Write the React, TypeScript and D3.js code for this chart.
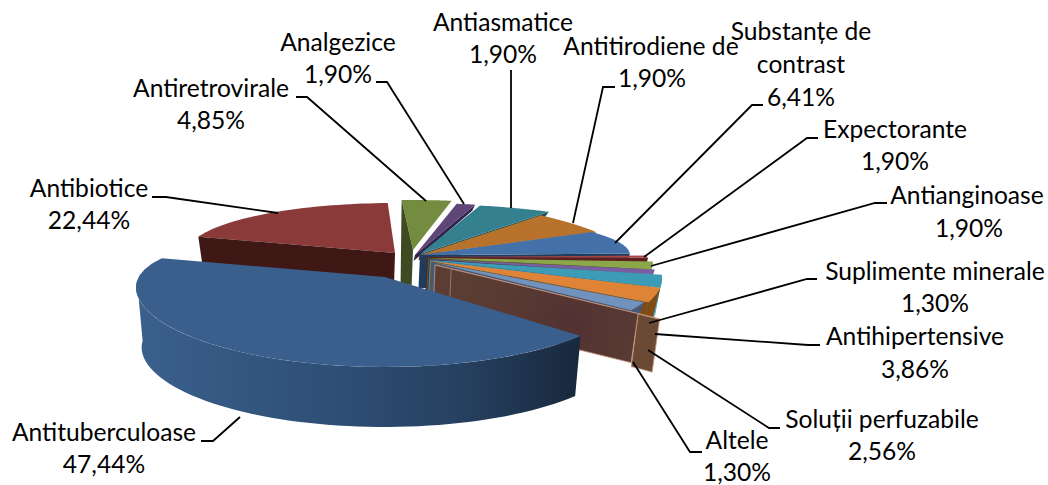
import React from "react";
import * as d3 from "d3";

// ---- data ----
const labelNames = [
  ["Antituberculoase"], ["Antibiotice"], ["Antiretrovirale"], ["Analgezice"], ["Antiasmatice"],
  ["Antitirodiene de"], ["Substanțe de", "contrast"], ["Expectorante"], ["Antianginoase"],
  ["Suplimente minerale"], ["Antihipertensive"], ["Soluții perfuzabile"], ["Altele"],
];
const labelValues = ["47,44%", "22,44%", "4,85%", "1,90%", "1,90%", "1,90%", "6,41%", "1,90%", "1,90%", "1,30%", "3,86%", "2,56%", "1,30%"];
// apparent sweep of each drawn wedge on the tilted disc (degrees)
const drawnSweep = [160.5, 69, 12, 4.5, 18, 22.5, 33, 3, 5, 3.5, 8.5, 10, 6, 4.5];

// ---- styles / layout ----
const W = 1048, H = 485;
const topColors = ["#3a5f8d", "#8b3a3a", "#748c3f", "#5e4679", "#35808f", "#b8722c", "#4472a8", "#a84444", "#8aa84a", "#7a5fa0", "#3d9cb5", "#df8336", "#7092bf", "#5a3a32"];
const wallColors = ["url(#blueWall)", "#3f1815", "#3f4a22", "#33224a", "#1c4c58", "#6a4015", "#1f3c5c", "#5e1f1f", "#4c6026", "#44305f", "#3d9cb5", "#7f4d14", "#46597a", "#6a4a35"];
// ax,ay = wedge tip; cx,cy = rim ellipse centre; rx..rxEnd, ry..ryEnd = rim ellipse; h = wall depth
const geo = [
  { ax: 385, ay: 277, cx: 385, cy: 285, rx: 250, rxEnd: 236, rxPow: 20, ry: 82, outer: 60, outerTo: 273 },
  { ax: 395, ay: 253, cx: 395, cy: 253, rx: 208, ry: 50, startH: 28 },
  { ax: 413, ay: 250, cx: 410, cy: 250, rx: 240, ry: 50, startH: 35, rimH: 84 },
  { ax: 415, ay: 255, cx: 415, cy: 255, rx: 240, ry: 52, endH: 6 },
  { ax: 420, ay: 254, cx: 420, cy: 254, rx: 240, ry: 50, endH: 6 },
  { ax: 420, ay: 255, cx: 420, cy: 255, rx: 225, rxEnd: 215, ry: 47, ryEnd: 40, endH: 5 },
  { ax: 420, ay: 255, cx: 420, cy: 255, rx: 210, ry: 40, endH: 33 },
  { ax: 427, ay: 257, cx: 430, cy: 257, rx: 216, rxEnd: 218, ry: 40, endH: 33 },
  { ax: 428, ay: 258, cx: 432, cy: 260, rx: 221, ry: 90, endH: 33 },
  { ax: 429, ay: 259, cx: 432, cy: 260, rx: 224, ry: 90, endH: 33 },
  { ax: 430, ay: 260, cx: 432, cy: 260, rx: 233, rxEnd: 240, ry: 90, endH: 33, outer: 40 },
  { ax: 431, ay: 261, cx: 432, cy: 260, rx: 240, rxEnd: 245, ry: 90, endH: 33, outer: 30 },
  { ax: 432, ay: 262, cx: 432, cy: 260, rx: 240, ry: 90, endH: 33, outer: 20 },
  { ax: 435, ay: 265, cx: 435, cy: 265, rx: 245, rxEnd: 287, ry: 87, startH: 49, outer: 53, glass: true },
];
const labelLayout = [
  { x: 104, y: 441, lead: [[201, 441], [213, 441], [240, 417]] },
  { x: 89, y: 197, lead: [[152, 197], [166, 197], [278, 213]] },
  { x: 211, y: 97, lead: [[296, 97], [307, 97], [426, 201]] },
  { x: 338, y: 51, lead: [[376, 82], [387, 82], [464, 204]] },
  { x: 503, y: 31, lead: [[511, 70], [511, 208]] },
  { x: 651, y: 55, lineX: 652, lead: [[615, 87], [603, 87], [573, 223]] },
  { x: 801, y: 40, lh: 33, lead: [[763, 105], [752, 105], [615, 243]] },
  { x: 895, y: 138, lead: [[818, 138], [807, 138], [644, 257]] },
  { x: 967, y: 204, lh: 33, lineX: 969, lead: [[887, 203], [875, 203], [651, 266]] },
  { x: 935, y: 280, lead: [[817, 279], [807, 279], [649, 323]] },
  { x: 915, y: 345, lh: 33, lead: [[820, 345], [808, 345], [655, 334]] },
  { x: 882, y: 428, lead: [[780, 428], [769, 428], [648, 350]] },
  { x: 737, y: 449, lead: [[702, 452], [690, 452], [633, 362]] },
];

const lineHeight = 32;
const vanishX = 360, depthK = 0.975;
const deg = d3.scaleLinear().domain([0, 360]).range([0, 2 * Math.PI]);
const pieGen = d3.pie<number>().sort(null).value((d) => d).startAngle(deg(128.5)).endAngle(deg(128.5 + 360));
const wedges = pieGen(drawnSweep).map((a) => ({ start: a.startAngle, end: a.endAngle }));
const path = d3.line();

type G = (typeof geo)[number] & { rxEnd?: number; ryEnd?: number; rxPow?: number };
function rim(g: G, a: number, w: { start: number; end: number }): [number, number] {
  const f = (a - w.start) / (w.end - w.start);
  const fx = Math.pow(f, g.rxPow ?? 1);
  const rx = d3.interpolateNumber(g.rx, g.rxEnd ?? g.rx)(fx);
  const ry = d3.interpolateNumber(g.ry, g.ryEnd ?? g.ry)(f);
  return [g.cx + rx * Math.sin(a), g.cy - ry * Math.cos(a)];
}
const drop = (p: number[], h: number): [number, number] => [vanishX + (p[0] - vanishX) * depthK, p[1] + h];

function Wedge({ i }: { i: number }) {
  const g = geo[i] as G;
  const w = wedges[i];
  const arc = d3.range(0, 41).map((k) => rim(g, w.start + ((w.end - w.start) * k) / 40, w));
  const tip: [number, number] = [g.ax, g.ay];
  const top = path([tip, ...arc])! + "Z";
  const stroke = g.glass ? "#c9977f" : "none";
  const sw = g.glass ? 0.8 : 0;
  const parts: React.ReactNode[] = [];
  if (g.outer) {
    const stop = g.outerTo !== undefined ? deg(g.outerTo) : w.end;
    const pts = d3.range(0, 61).map((k) => rim(g, w.start + ((stop - w.start) * k) / 60, w));
    const d = path([...pts, ...pts.slice().reverse().map((p) => drop(p, g.outer!))])! + "Z";
    parts.push(<path key="o" d={d} fill={wallColors[i]} stroke={stroke} strokeWidth={sw} />);
  }
  if (g.endH) {
    const p = arc[arc.length - 1];
    const d = path([p, tip, drop(tip, g.endH), drop(p, g.endH)])! + "Z";
    parts.push(<path key="e" d={d} fill={wallColors[i]} />);
  }
  parts.push(<path key="t" d={top} fill={topColors[i]} stroke={stroke} strokeWidth={sw} />);
  if (g.startH) {
    const p = arc[0];
    const d = path([p, tip, drop(tip, g.startH), drop(p, g.rimH ?? g.startH)])! + "Z";
    parts.push(<path key="s" d={d} fill={g.glass ? "url(#glass)" : wallColors[i]} stroke={stroke} strokeWidth={sw} />);
    if (g.glass) {
      const mix = d3.interpolateArray(tip as number[], p as number[]);
      const a = mix(0.08) as number[];
      parts.push(<path key="m" d={path([a as [number, number], drop(a, g.startH)])!} stroke="#a98070" strokeWidth={0.8} fill="none" />);
    }
  }
  return <g>{parts}</g>;
}

export default function App() {
  const drawOrder = d3.range(1, geo.length).concat([0]);
  return (
    <svg width={W} height={H} style={{ position: "absolute", left: 0, top: 0, display: "block", background: "#fff" }}>
      <defs>
        <linearGradient id="blueWall" gradientUnits="userSpaceOnUse" x1={135} x2={577} y1={0} y2={0}>
          <stop offset="0" stopColor="#3a608c" />
          <stop offset="0.45" stopColor="#2e4f76" />
          <stop offset="0.75" stopColor="#26405f" />
          <stop offset="1" stopColor="#18293d" />
        </linearGradient>
        <radialGradient id="glass" gradientUnits="userSpaceOnUse" cx={570} cy={325} r={110}>
          <stop offset="0" stopColor="#523232" />
          <stop offset="0.6" stopColor="#583a33" />
          <stop offset="1" stopColor="#5c3d33" />
        </radialGradient>
      </defs>
      {drawOrder.map((i) => <Wedge key={i} i={i} />)}
      <g fill="none" stroke="#000" strokeWidth={1.8}>
        {labelLayout.map((l, i) => <path key={i} d={path(l.lead as [number, number][])!} />)}
      </g>
      <g fontFamily="Lato, Carlito, sans-serif" fontSize={24.6} fill="#000" textAnchor="middle">
        {labelLayout.map((l, i) => (
          <g key={i}>
            {labelNames[i].map((t, j) => <text key={j} x={l.x} y={l.y + j * (l.lh ?? lineHeight)}>{t}</text>)}
            <text x={l.lineX ?? l.x} y={l.y + labelNames[i].length * (l.lh ?? lineHeight)}>{labelValues[i]}</text>
          </g>
        ))}
      </g>
    </svg>
  );
}
